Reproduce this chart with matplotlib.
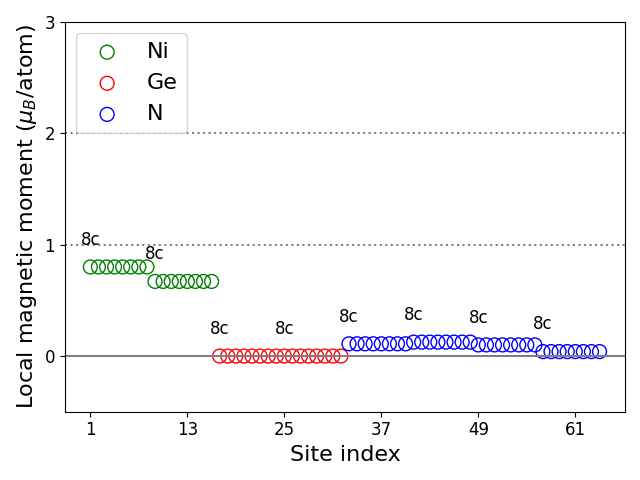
import matplotlib
matplotlib.use("Agg")
import matplotlib.pyplot as plt
import numpy as np

# site groups (Wyckoff 8c each)
ni_sites = list(range(1, 17))
ni_moments = [0.80] * 8 + [0.67] * 8
ge_sites = list(range(17, 33))
ge_moments = [0.0] * 16
n_sites = list(range(33, 65))
n_moments = [0.11] * 8 + [0.125] * 8 + [0.10] * 8 + [0.04] * 8

group_starts = [1, 9, 17, 25, 33, 41, 49, 57]
group_moments = [0.80, 0.67, 0.0, 0.0, 0.11, 0.125, 0.10, 0.04]
group_labels = ["8c"] * 8

xticks = [1, 13, 25, 37, 49, 61]

fig, ax = plt.subplots(figsize=(6.4, 4.8), dpi=100)

ax.axhline(0, color="gray", lw=1.5)
ax.axhline(1, color="gray", lw=1.5, ls=":")
ax.axhline(2, color="gray", lw=1.5, ls=":")

ax.scatter(ni_sites, ni_moments, s=100, facecolors="none", edgecolors="green", label="Ni")
ax.scatter(ge_sites, ge_moments, s=100, facecolors="none", edgecolors="red", label="Ge")
ax.scatter(n_sites, n_moments, s=100, facecolors="none", edgecolors="blue", label="N")

for x, m, lab in zip(group_starts, group_moments, group_labels):
    ax.text(x, m + 0.2, lab, ha="center", fontsize=12)

ax.set_ylim(-0.5, 3)
ax.set_yticks([0, 1, 2, 3])
ax.set_xticks(xticks)
ax.tick_params(labelsize=12)
ax.set_xlabel("Site index", fontsize=16)
ax.set_ylabel(r"Local magnetic moment ($\mu_B$/atom)", fontsize=16)
ax.legend(loc="upper left", fontsize=16)

plt.tight_layout()
plt.savefig("out.png")
